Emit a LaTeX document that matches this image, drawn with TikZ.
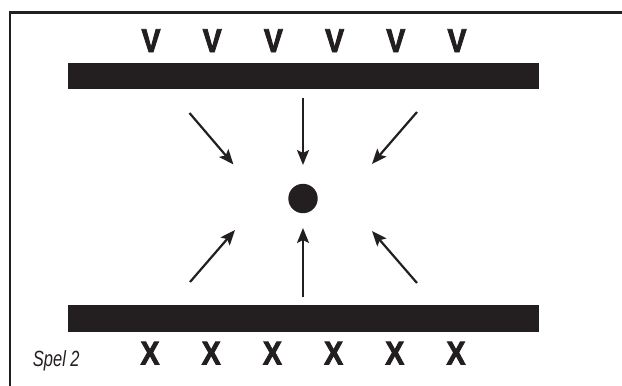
\documentclass[tikz,border=0pt]{standalone}
\usepackage{fontspec}
\usepackage{tikz}
\usetikzlibrary{arrows.meta, positioning}
\newfontfamily\condsans[FakeStretch=0.75]{Liberation Sans}
\newfontfamily\condheavy[FakeStretch=0.86, FakeBold=2.6]{Liberation Sans Bold}
\definecolor{ink}{HTML}{231F20}

\begin{document}
\begin{tikzpicture}[
  x=1pt, y=-1pt,
  bar/.style={rectangle, fill=ink, inner sep=0pt, minimum width=471pt, minimum height=26.6pt},
  ball/.style={circle, fill=ink, inner sep=0pt, minimum size=29.4pt},
  glyph/.style={inner sep=0pt, minimum width=20pt, text=ink, font=\condheavy\fontsize{33}{33}\selectfont},
  caption/.style={inner sep=0pt, text=ink, font=\condsans\itshape\fontsize{22}{22}\selectfont},
  arrow/.style={-{Stealth[length=15pt, width=12pt, inset=3pt]}, line width=2.2pt, draw=ink}
]
  \clip (0,0) rectangle (622,386);
  \fill[white] (0,0) rectangle (622,386);
  % open frame, runs off the page to the right and below
  \draw[ink, line width=2.3pt] (9.7,12.5) rectangle (660,420);

  \node[bar] (topbar) at (303.5,76) {};
  \node[bar] (botbar) at (303.5,318.5) {};
  \node[ball] (ball) at (303,198.5) {};

  \node[glyph, anchor=base] (v1) at (151,52) {V};
  \node[glyph, right=40.8pt of v1] (v2) {V};
  \node[glyph, right=40.8pt of v2] (v3) {V};
  \node[glyph, right=40.8pt of v3] (v4) {V};
  \node[glyph, right=40.8pt of v4] (v5) {V};
  \node[glyph, right=40.8pt of v5] (v6) {V};

  \node[glyph, anchor=base] (x1) at (150,364.5) {X};
  \node[glyph, right=40.8pt of x1] (x2) {X};
  \node[glyph, right=40.8pt of x2] (x3) {X};
  \node[glyph, right=40.8pt of x3] (x4) {X};
  \node[glyph, right=40.8pt of x4] (x5) {X};
  \node[glyph, right=40.8pt of x5] (x6) {X};

  \node[caption, anchor=base west] (spel) at (32.7,366) {Spel 2};

  % arrows towards the ball
  \coordinate (tl-from) at (189.5,113);  \coordinate (tl-to) at (233.5,164.5);
  \coordinate (tc-from) at (303,98);     \coordinate (tc-to) at (303,165);
  \coordinate (tr-from) at (417,112);    \coordinate (tr-to) at (372,164);
  \coordinate (bl-from) at (190,282);    \coordinate (bl-to) at (235,230);
  \coordinate (bc-from) at (303,297);    \coordinate (bc-to) at (303,228);
  \coordinate (br-from) at (417,283);    \coordinate (br-to) at (372,231);

  \draw[arrow] (tl-from) -- (tl-to);
  \draw[arrow] (tc-from) -- (tc-to);
  \draw[arrow] (tr-from) -- (tr-to);
  \draw[arrow] (bl-from) -- (bl-to);
  \draw[arrow] (bc-from) -- (bc-to);
  \draw[arrow] (br-from) -- (br-to);
\end{tikzpicture}
\end{document}
